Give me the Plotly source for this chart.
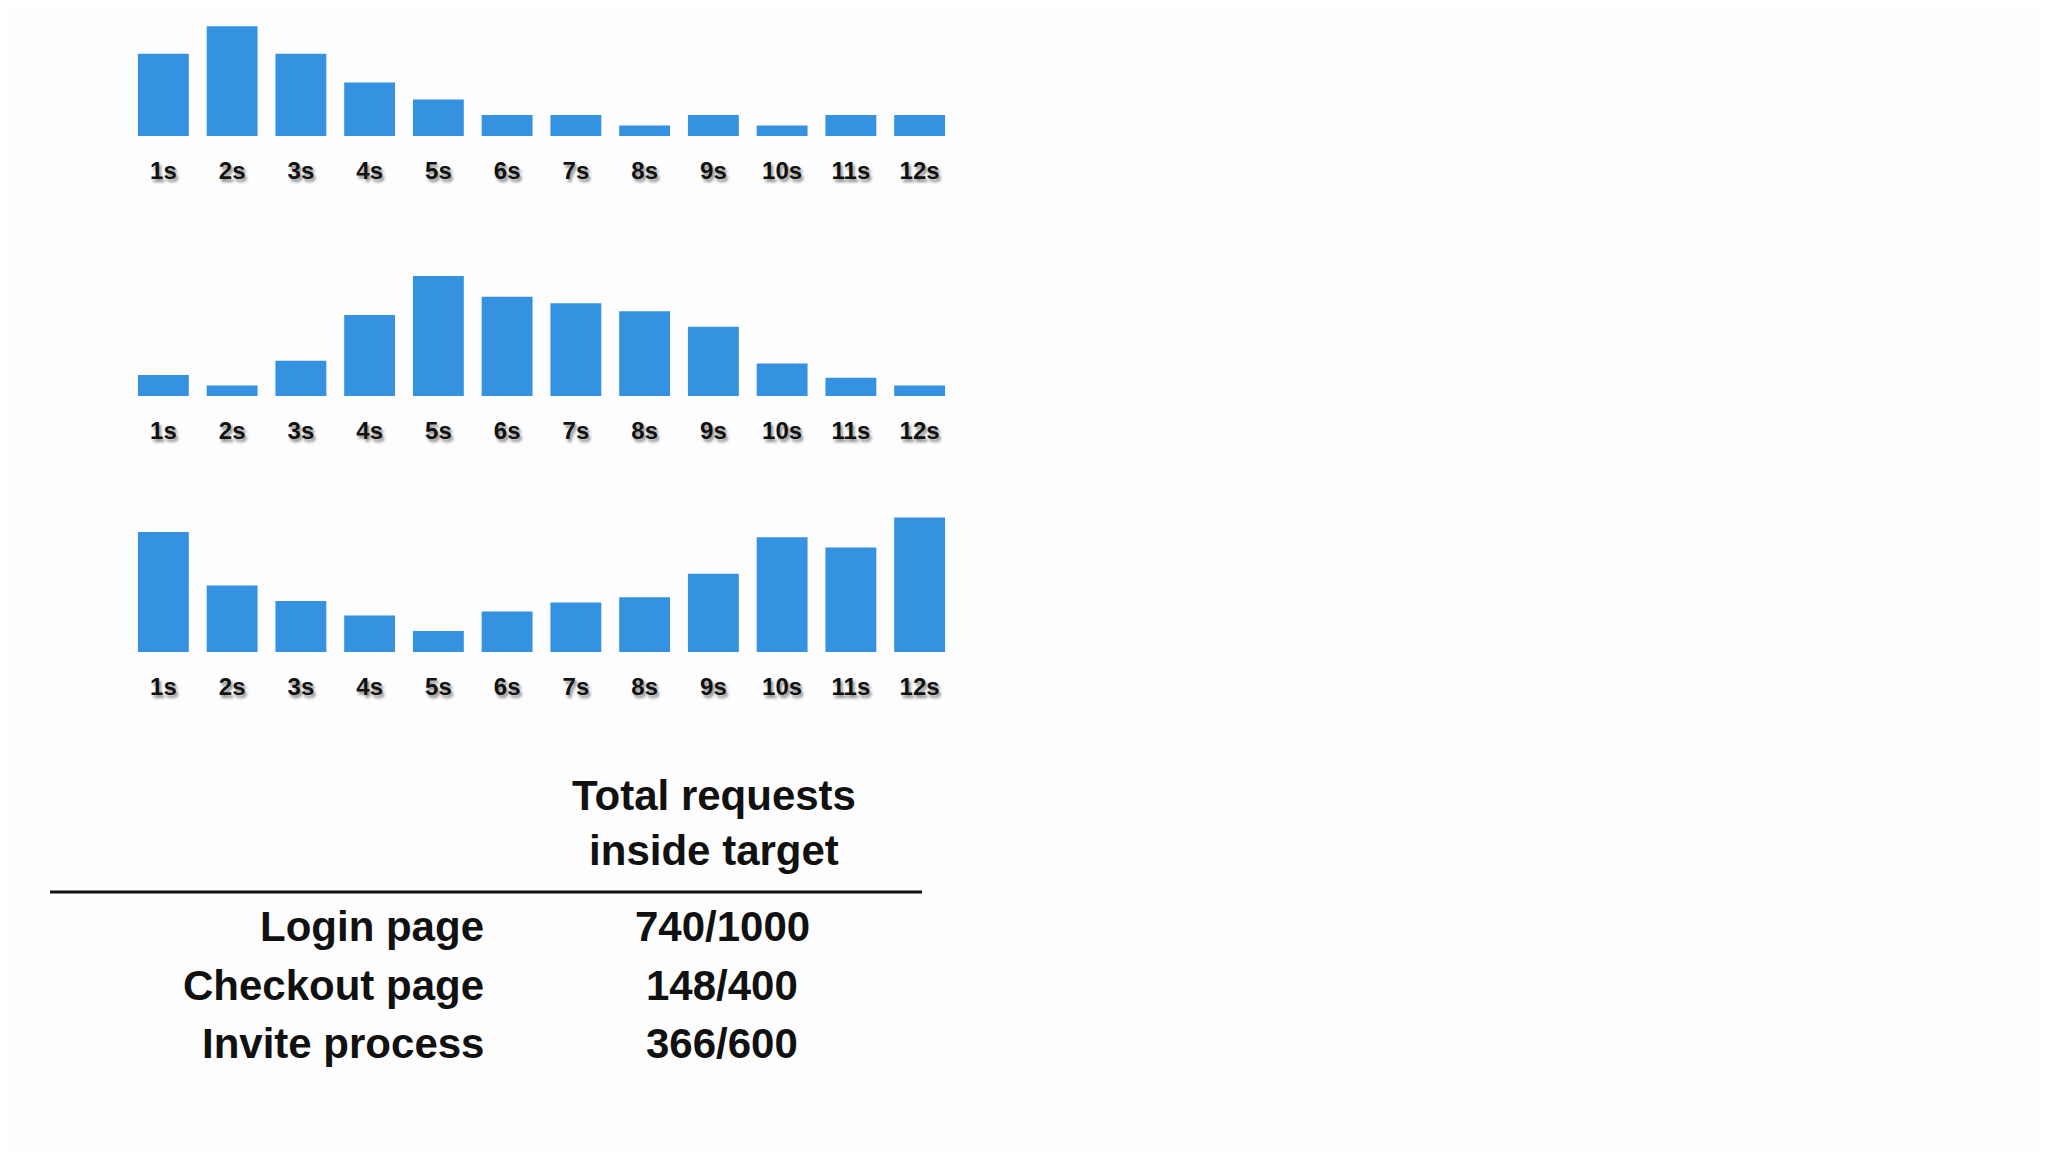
import plotly.graph_objects as go

cats = ["1s","2s","3s","4s","5s","6s","7s","8s","9s","10s","11s","12s"]
login = [63,84,63,41,28,16,16,8,16,8,16,16]
checkout = [16,8,27,62,92,76,71,65,53,25,14,8]
invite = [92,51,39,28,16,31,38,42,60,88,80,103]
rows = ["Login page","Checkout page","Invite process"]
totals = ["740/1000","148/400","366/600"]
header = "Total requests<br>inside target"

W, H = 2048, 1152
fig = go.Figure()
bases = [128, 388, 644]
for i, (vals, b) in enumerate(zip([login, checkout, invite], bases)):
    ax = "" if i == 0 else str(i+1)
    fig.add_trace(go.Bar(x=cats, y=vals, xaxis="x"+ax, yaxis="y"+ax,
                         marker=dict(color="#3592e0", line=dict(width=0)), showlegend=False))
    fig.update_layout(**{
        "xaxis"+ax: dict(domain=[121/W, 946/W], anchor="y"+ax, showgrid=False, zeroline=False,
                         showline=False, ticks="", ticklabelstandoff=18,
                         tickfont=dict(family="Liberation Sans Narrow, Liberation Sans", size=24, color="#111",
                                       weight="bold", shadow="2px 3px 3px rgba(0,0,0,0.45)")),
        "yaxis"+ax: dict(domain=[1-b/H, min(1, 1-b/H+137/H)], anchor="x"+ax,
                         range=[0, 105 if i else 98], visible=False),
    })
fig.update_layout(bargap=0.26)

fnt = dict(family="Liberation Sans", size=42, color="#111", weight="bold")
fig.add_annotation(x=706/W, y=1-815/H, xref="paper", yref="paper", text=header, showarrow=False,
                   font=fnt, align="center", xanchor="center", yanchor="middle")
fig.add_shape(type="line", xref="paper", yref="paper", x0=42/W, x1=914/W, y0=1-884/H, y1=1-884/H,
              line=dict(color="#111", width=3))
for j, (r, t) in enumerate(zip(rows, totals)):
    y = 1 - [918, 977, 1035][j]/H
    fig.add_annotation(x=478/W, y=y, xref="paper", yref="paper", text=r, showarrow=False,
                       font=fnt, xanchor="right", yanchor="middle")
    fig.add_annotation(x=714/W, y=y, xref="paper", yref="paper", text=t, showarrow=False,
                       font=fnt, xanchor="center", yanchor="middle")

fig.update_layout(width=W, height=H, margin=dict(l=0, r=0, t=0, b=0),
                  paper_bgcolor="#fdfdfd", plot_bgcolor="#fdfdfd")
fig.write_html("out.html")
